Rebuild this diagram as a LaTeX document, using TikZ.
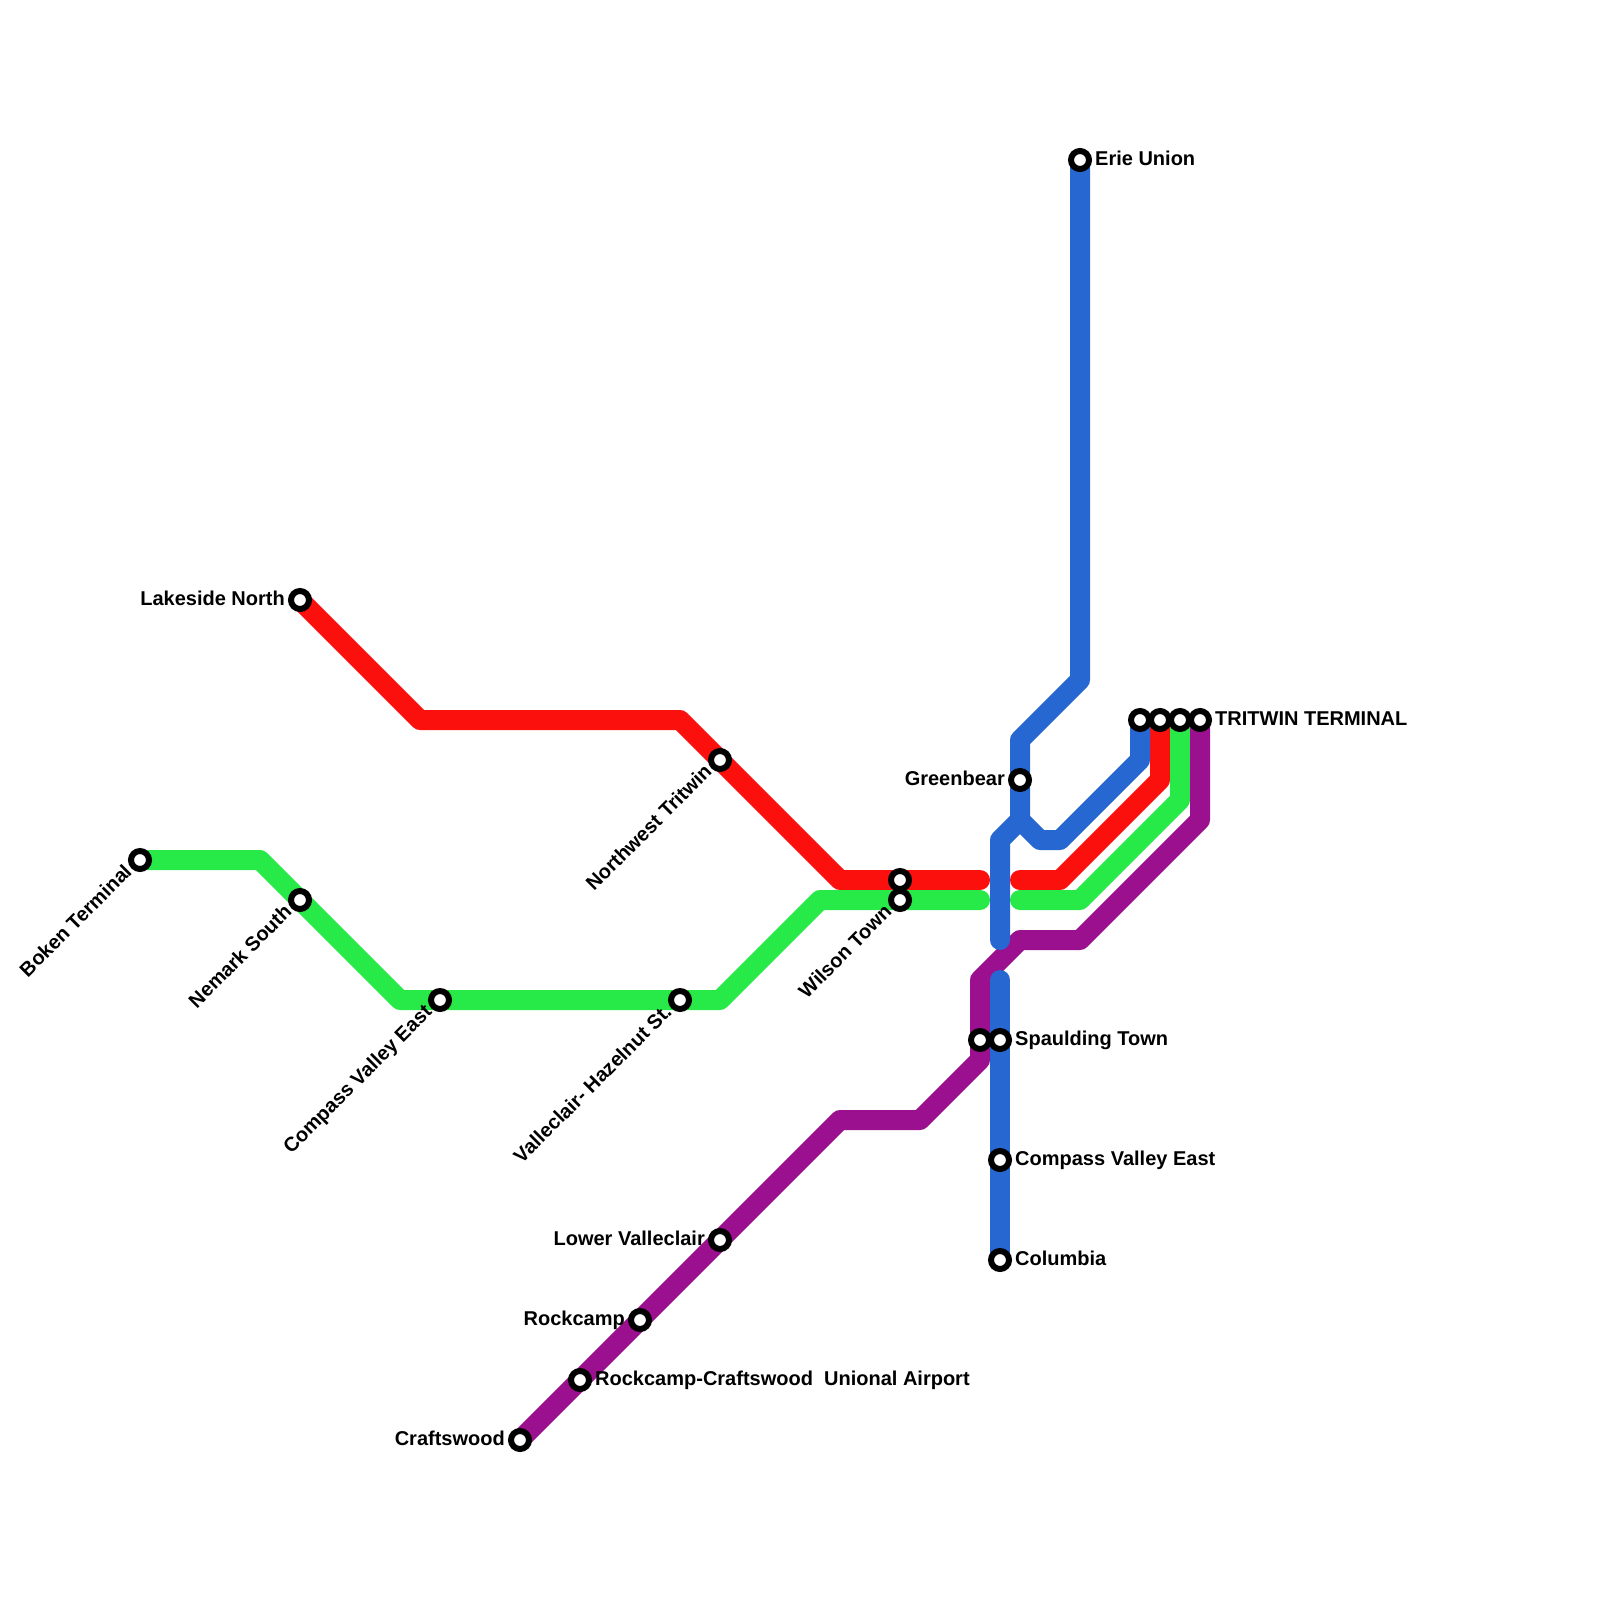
\documentclass[tikz,border=0pt]{standalone}
\usepackage{fontspec}
\setmainfont{Liberation Sans}[BoldFont={Liberation Sans Bold}]
\usetikzlibrary{backgrounds}
\definecolor{cred}{HTML}{FB100E}
\definecolor{cgreen}{HTML}{27EA48}
\definecolor{cblue}{HTML}{2767D1}
\definecolor{cpurple}{HTML}{9B108E}
\tikzset{
  stn/.style={circle,draw=black,fill=white,line width=6pt,minimum size=18pt,inner sep=0pt,outer sep=0pt},
  metro/.style={line width=20pt,line cap=round,line join=round},
  lblr/.style={anchor=base west,inner sep=0pt,font=\fontsize{20}{22}\selectfont\bfseries},
  lbll/.style={anchor=base east,inner sep=0pt,font=\fontsize{20}{22}\selectfont\bfseries},
  lbld/.style={anchor=base east,inner sep=0pt,rotate=45,font=\fontsize{20}{22}\selectfont\bfseries},
}
\begin{document}
\begin{tikzpicture}[x=1pt,y=-1pt]
\path[use as bounding box] (0,0) rectangle (1600,1600);
% stations
\node[stn] (lakeside) at (300,600) {};
\node[stn] (boken) at (140,860) {};
\node[stn] (nemark) at (300,900) {};
\node[stn] (cve) at (440,1000) {};
\node[stn] (hazel) at (680,1000) {};
\node[stn] (nwt) at (720,760) {};
\node[stn] (wilsonr) at (900,880) {};
\node[stn] (wilsong) at (900,900) {};
\node[stn] (erie) at (1080,160) {};
\node[stn] (greenbear) at (1020,780) {};
\node[stn] (trb) at (1140,720) {};
\node[stn] (trr) at (1160,720) {};
\node[stn] (trg) at (1180,720) {};
\node[stn] (trp) at (1200,720) {};
\node[stn] (spp) at (980,1040) {};
\node[stn] (spb) at (1000,1040) {};
\node[stn] (cve2) at (1000,1160) {};
\node[stn] (columbia) at (1000,1260) {};
\node[stn] (lower) at (720,1240) {};
\node[stn] (rock) at (640,1320) {};
\node[stn] (rockcraft) at (580,1380) {};
\node[stn] (craft) at (520,1440) {};
% bends
\coordinate (r1) at (420,720); \coordinate (r2) at (680,720); \coordinate (r3) at (840,880);
\coordinate (r4) at (980,880); \coordinate (r5) at (1020,880); \coordinate (r6) at (1060,880); \coordinate (r7) at (1160,780);
\coordinate (g1) at (260,860); \coordinate (g2) at (400,1000); \coordinate (g3) at (720,1000); \coordinate (g4) at (820,900);
\coordinate (g5) at (980,900); \coordinate (g6) at (1020,900); \coordinate (g7) at (1080,900); \coordinate (g8) at (1180,800);
\coordinate (b1) at (1080,680); \coordinate (b2) at (1020,740); \coordinate (b3) at (1020,820); \coordinate (b4) at (1040,840);
\coordinate (b5) at (1060,840); \coordinate (b6) at (1140,760); \coordinate (b7) at (1000,840); \coordinate (b8) at (1000,940); \coordinate (b9) at (1000,980);
\coordinate (p1) at (1200,820); \coordinate (p2) at (1080,940); \coordinate (p3) at (1020,940); \coordinate (p4) at (980,980);
\coordinate (p5) at (980,1060); \coordinate (p6) at (920,1120); \coordinate (p7) at (840,1120);
\begin{pgfonlayer}{background}
\draw[metro,cred] (lakeside.center) -- (r1) -- (r2) -- (r3) -- (r4);
\draw[metro,cred] (r5) -- (r6) -- (r7) -- (trr.center);
\draw[metro,cgreen] (boken.center) -- (g1) -- (g2) -- (g3) -- (g4) -- (g5);
\draw[metro,cgreen] (g6) -- (g7) -- (g8) -- (trg.center);
\draw[metro,cpurple] (trp.center) -- (p1) -- (p2) -- (p3) -- (p4) -- (p5) -- (p6) -- (p7) -- (craft.center);
\draw[metro,cblue] (erie.center) -- (b1) -- (b2) -- (b3) -- (b4) -- (b5) -- (b6) -- (trb.center);
\draw[metro,cblue] (b8) -- (b7) -- (b3);
\draw[metro,cblue] (b9) -- (columbia.center);
\end{pgfonlayer}
% labels
\node[lbll] (tlakeside) at (285,605) {Lakeside North};
\node[lbld] (tboken) at (133,873) {Boken Terminal};
\node[lbld] (tnemark) at (293,913) {Nemark South};
\node[lbld] (tcve) at (433,1013) {Compass Valley East};
\node[lbld] (thazel) at (673,1013) {Valleclair- Hazelnut St.};
\node[lbld] (tnwt) at (713,773) {Northwest Tritwin};
\node[lbld] (twilson) at (893,913) {Wilson Town};
\node[lblr] (terie) at (1095,165) {Erie Union};
\node[lbll] (tgreenbear) at (1005,785) {Greenbear};
\node[lblr] (ttr) at (1215,725) {TRITWIN TERMINAL};
\node[lblr] (tsp) at (1015,1045) {Spaulding Town};
\node[lblr] (tcve2) at (1015,1165) {Compass Valley East};
\node[lblr] (tcolumbia) at (1015,1265) {Columbia};
\node[lbll] (tlower) at (705,1245) {Lower Valleclair};
\node[lbll] (trock) at (625,1325) {Rockcamp};
\node[lblr] (trockcraft) at (595,1385) {Rockcamp-Craftswood\ \ Unional Airport};
\node[lbll] (tcraft) at (505,1445) {Craftswood};
\end{tikzpicture}
\end{document}
